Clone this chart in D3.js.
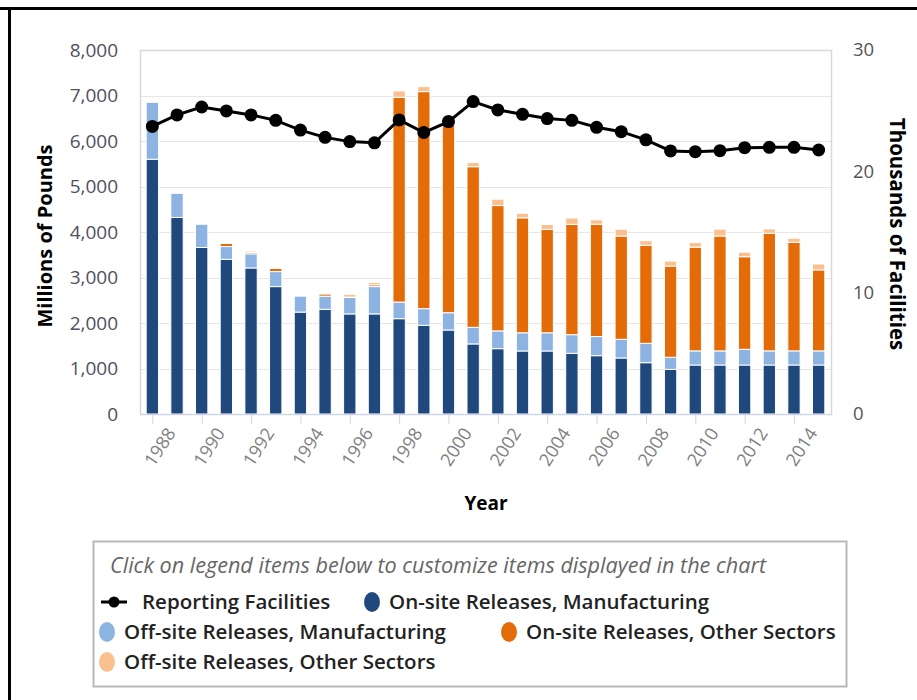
<!DOCTYPE html>
<html>
<head>
<meta charset="utf-8">
<script src="https://cdn.jsdelivr.net/npm/d3@7"></script>
<style>
  body { margin: 0; background: #fff; }
  svg text { font-family: "Open Sans", "DejaVu Sans", sans-serif; }
</style>
</head>
<body>
<svg id="chart" width="917" height="700"></svg>
<script>
//----------------------------------------------------------------------------------------------------
// values (millions of pounds, thousands of facilities)
var years = [1988, 1989, 1990, 1991, 1992, 1993, 1994, 1995, 1996, 1997,
             1998, 1999, 2000, 2001, 2002, 2003, 2004, 2005, 2006, 2007,
             2008, 2009, 2010, 2011, 2012, 2013, 2014, 2015];

var onsiteMfg    = [5600, 4320, 3660, 3400, 3210, 2800, 2240, 2300, 2200, 2200,
                    2095, 1950, 1846, 1540, 1436, 1385, 1385, 1333, 1282, 1231,
                    1128,  981, 1077, 1077, 1077, 1077, 1077, 1077];
var offsiteMfg   = [1250,  530,  510,  280,  310,  330,  350,  290,  360,  600,
                     365,  365,  380,  365,  390,  400,  400,  410,  420,  410,
                     425,  265,  310,  310,  345,  310,  310,  310];
var onsiteOther  = [   0,    0,    0,   70,   30,   70,    0,   50,   10,   40,
                    4500, 4770, 4250, 3530, 2755, 2527, 2270, 2425, 2470, 2270,
                    2155, 2005, 2280, 2525, 2035, 2585, 2385, 1780];
var offsiteOther = [   0,    0,    0,   10,   30,   10,    0,   10,   60,   50,
                     140,  110,   80,   90,  140,  100,  110,  140,   95,  150,
                     100,  110,  100,  150,  100,   95,   90,  130];
var facilities   = [23.7, 24.65, 25.3, 24.98, 24.65, 24.2, 23.4, 22.8, 22.45, 22.35,
                    24.24, 23.2, 24.1, 25.75, 25.06, 24.7, 24.35, 24.2, 23.63, 23.27,
                    22.6, 21.68, 21.62, 21.7, 21.95, 21.98, 21.98, 21.76];

var leftTicks  = [0, 1000, 2000, 3000, 4000, 5000, 6000, 7000, 8000];
var rightTicks = [0, 10, 20, 30];
var yearTickLabels = ["1988", "1990", "1992", "1994", "1996", "1998", "2000",
                      "2002", "2004", "2006", "2008", "2010", "2012", "2014"];

var seriesKeys   = ["onsiteMfg", "offsiteMfg", "onsiteOther", "offsiteOther"];
var seriesNames  = ["On-site Releases, Manufacturing", "Off-site Releases, Manufacturing",
                    "On-site Releases, Other Sectors", "Off-site Releases, Other Sectors"];
var seriesColors = ["#1f497d", "#8db3e2", "#e36c09", "#fac08f"];

//----------------------------------------------------------------------------------------------------
var svg = d3.select("#chart");
var plot = {left: 140, right: 831, top: 50, bottom: 414};

var rows = years.map(function(y, i){
   return {year: y, onsiteMfg: onsiteMfg[i], offsiteMfg: offsiteMfg[i],
           onsiteOther: onsiteOther[i], offsiteOther: offsiteOther[i]};
   });

var xScale = d3.scaleBand()
               .domain(years)
               .range([plot.left, plot.right])
               .paddingInner(0.5)
               .paddingOuter(0.25);

var yScale = d3.scaleLinear()
               .domain([0, 8000])
               .range([plot.bottom, plot.top]);

var y2Scale = d3.scaleLinear()
                .domain([0, 30])
                .range([plot.bottom, plot.top]);

svg.append("rect").attr("width", 917).attr("height", 700).attr("fill", "#fff");

  // outer frame of the screenshot: only top and left edges show
svg.append("line").attr("x1", 0).attr("x2", 917).attr("y1", 8.5).attr("y2", 8.5)
   .attr("stroke", "#000").attr("stroke-width", 3);
svg.append("line").attr("x1", 9.5).attr("x2", 9.5).attr("y1", 7).attr("y2", 700)
   .attr("stroke", "#000").attr("stroke-width", 3);

//----------------------------------------------------------------------------------------------------
// grid and plot border
svg.append("g")
   .selectAll("line")
   .data(leftTicks.slice(1, -1))
   .enter().append("line")
   .attr("x1", plot.left).attr("x2", plot.right)
   .attr("y1", function(d){ return Math.round(yScale(d)) + 0.5; })
   .attr("y2", function(d){ return Math.round(yScale(d)) + 0.5; })
   .attr("stroke", "#e6e6e6");

svg.append("rect")
   .attr("x", plot.left + 0.5).attr("y", plot.top + 0.5)
   .attr("width", plot.right - plot.left).attr("height", plot.bottom - plot.top)
   .attr("fill", "none").attr("stroke", "#d8d8d8").attr("stroke-width", 1.5);

//----------------------------------------------------------------------------------------------------
// stacked bars
var stacked = d3.stack().keys(seriesKeys)(rows);

svg.append("g")
   .selectAll("g")
   .data(stacked)
   .enter().append("g")
   .attr("fill", function(d, i){ return seriesColors[i]; })
   .selectAll("rect")
   .data(function(d){ return d; })
   .enter().append("rect")
   .filter(function(d){ return d[1] - d[0] > 0; })
   .attr("x", function(d){ return xScale(d.data.year); })
   .attr("width", xScale.bandwidth())
   .attr("y", function(d){ return yScale(d[1]); })
   .attr("height", function(d){ return yScale(d[0]) - yScale(d[1]); })
   .attr("stroke", "#fff")
   .attr("stroke-width", 1);

//----------------------------------------------------------------------------------------------------
// reporting facilities line
var lineGen = d3.line()
                .x(function(d, i){ return xScale(years[i]) + xScale.bandwidth() / 2; })
                .y(function(d){ return y2Scale(d); });

svg.append("path")
   .datum(facilities)
   .attr("d", lineGen)
   .attr("fill", "none")
   .attr("stroke", "#000")
   .attr("stroke-width", 3);

svg.append("g")
   .selectAll("circle")
   .data(facilities)
   .enter().append("circle")
   .attr("cx", function(d, i){ return xScale(years[i]) + xScale.bandwidth() / 2; })
   .attr("cy", function(d){ return y2Scale(d); })
   .attr("r", 6.5)
   .attr("fill", "#000");

//----------------------------------------------------------------------------------------------------
// axes
var leftAxis = d3.axisLeft(yScale)
                 .tickValues(leftTicks)
                 .tickSize(0)
                 .tickPadding(22)
                 .tickFormat(d3.format(","));

var gLeft = svg.append("g")
   .attr("transform", "translate(" + plot.left + ",0)")
   .call(leftAxis);
gLeft.select(".domain").remove();
gLeft.selectAll("text").attr("fill", "#4f5060").style("font-size", "19px");

var rightAxis = d3.axisRight(y2Scale)
                  .tickValues(rightTicks)
                  .tickSize(0)
                  .tickPadding(22);

var gRight = svg.append("g")
   .attr("transform", "translate(" + plot.right + ",0)")
   .call(rightAxis);
gRight.select(".domain").remove();
gRight.selectAll("text").attr("fill", "#555").style("font-size", "18.5px");

var bottomAxis = d3.axisBottom(xScale)
                   .tickValues(yearTickLabels.map(Number))
                   .tickSize(10)
                   .tickPadding(4);

var gBottom = svg.append("g")
   .attr("transform", "translate(0," + plot.bottom + ")")
   .call(bottomAxis);
gBottom.select(".domain").attr("stroke", "#ccd6eb").attr("d", "M" + plot.left + ",0.5H" + plot.right);
gBottom.selectAll(".tick line").attr("stroke", "#ccd6eb").attr("transform", "translate(0.5,0)");
gBottom.selectAll("text")
   .attr("fill", "#808080")
   .style("font-size", "18px")
   .attr("text-anchor", "end")
   .attr("dy", "0.35em")
   .attr("transform", "translate(7,8) rotate(-57)");

  // axis titles
svg.append("text")
   .attr("transform", "translate(52,236) rotate(-90)")
   .attr("text-anchor", "middle")
   .style("font-size", "20px").style("font-weight", "700")
   .attr("fill", "#000")
   .text("Millions of Pounds");

svg.append("text")
   .attr("transform", "translate(890,234) rotate(90)")
   .attr("text-anchor", "middle")
   .style("font-size", "20.5px").style("font-weight", "700")
   .attr("fill", "#000")
   .text("Thousands of Facilities");

svg.append("text")
   .attr("x", 486).attr("y", 510)
   .attr("text-anchor", "middle")
   .style("font-size", "19px").style("font-weight", "700")
   .attr("fill", "#000")
   .text("Year");

//----------------------------------------------------------------------------------------------------
// legend
var legend = svg.append("g");

legend.append("rect")
   .attr("x", 93.5).attr("y", 541.5).attr("width", 753).attr("height", 145)
   .attr("fill", "#fff").attr("stroke", "#b8b8b8").attr("stroke-width", 2);

legend.append("text")
   .attr("x", 110).attr("y", 565)
   .attr("dy", "0.35em")
   .style("font-size", "21.6px").style("font-style", "italic")
   .attr("fill", "#666")
   .text("Click on legend items below to customize items displayed in the chart");

var legendItems = [
   {name: "Reporting Facilities", color: "#000", line: true, x: 101, y: 602},
   {name: seriesNames[0], color: seriesColors[0], x: 363, y: 602},
   {name: seriesNames[1], color: seriesColors[1], x: 98,  y: 632},
   {name: seriesNames[2], color: seriesColors[2], x: 500, y: 632},
   {name: seriesNames[3], color: seriesColors[3], x: 98,  y: 662}
   ];

var item = legend.selectAll("g.item")
   .data(legendItems)
   .enter().append("g")
   .attr("class", "item")
   .attr("transform", function(d){ return "translate(" + d.x + "," + d.y + ")"; });

item.filter(function(d){ return d.line; })
   .append("line")
   .attr("x1", 0).attr("x2", 26).attr("y1", 0).attr("y2", 0)
   .attr("stroke", "#000").attr("stroke-width", 3);
item.filter(function(d){ return d.line; })
   .append("circle")
   .attr("cx", 13).attr("cy", 0).attr("r", 5.5).attr("fill", "#000");
item.filter(function(d){ return !d.line; })
   .append("ellipse")
   .attr("cx", 9).attr("cy", 0).attr("rx", 8).attr("ry", 10)
   .attr("fill", function(d){ return d.color; });

item.append("text")
   .attr("x", function(d){ return d.line ? 41 : 26; })
   .attr("y", 0)
   .attr("dy", "0.35em")
   .style("font-size", "20.5px").style("font-weight", "600")
   .attr("fill", "#222")
   .text(function(d){ return d.name; });

</script>
</body>
</html>
